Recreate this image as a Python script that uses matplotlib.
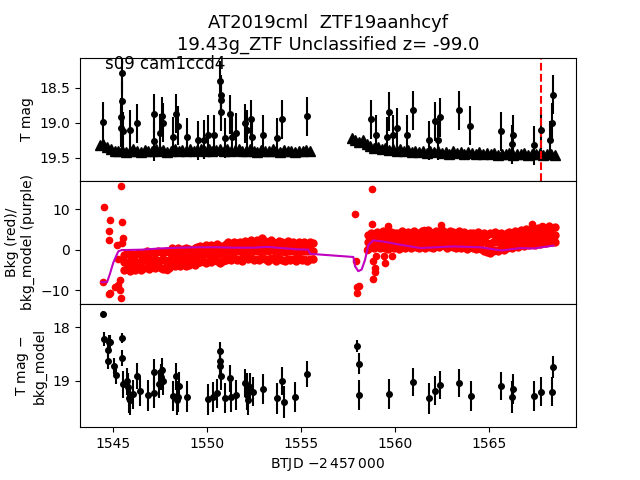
import numpy as np
import matplotlib
matplotlib.use('Agg')
import matplotlib.pyplot as plt

# --- top panel: detections (dots with error bars) ---
det_t = [1544.50, 1545.49, 1545.49, 1545.44, 1545.44, 1545.55, 1545.92, 1546.29, 1547.20, 1547.20,
         1547.52, 1547.61, 1547.69, 1548.19, 1548.37, 1548.47, 1548.95, 1549.54, 1549.86, 1550.07,
         1550.39, 1550.71, 1550.76, 1550.76, 1550.76, 1550.97, 1551.24, 1551.34, 1551.56, 1552.04,
         1552.14, 1552.34, 1552.41, 1552.99, 1553.74, 1554.00, 1555.33,
         1558.74, 1559.00, 1559.59, 1559.70, 1559.91, 1560.12, 1560.65, 1560.97, 1561.82, 1562.14,
         1562.30, 1562.41, 1563.42, 1564.00, 1565.65, 1566.29, 1566.24, 1567.41, 1567.78, 1568.26,
         1568.37, 1568.42]
det_mag = [18.99, 18.29, 18.69, 18.92, 19.07, 19.12, 19.10, 19.01, 18.87, 19.26,
           19.15, 18.91, 19.00, 19.20, 18.87, 19.04, 19.21, 19.25, 19.24, 19.17,
           19.17, 18.40, 18.60, 18.68, 18.84, 19.22, 18.88, 19.20, 19.14, 19.01,
           19.10, 18.95, 19.21, 19.17, 19.22, 18.95, 18.91,
           18.95, 19.17, 19.20, 18.84, 19.17, 19.07, 19.17, 18.82, 19.25, 18.98,
           19.25, 18.92, 18.82, 19.04, 19.12, 19.17, 19.31, 19.32, 19.10, 19.25,
           19.00, 18.60]
det_err = 0.28

# --- top panel: upper limits (triangles) ---
lim_t = [1544.3, 1544.5, 1544.7, 1544.9, 1545.1, 1545.3, 1545.5, 1545.7, 1545.9, 1546.1,
         1546.3, 1546.5, 1546.7, 1546.9, 1547.1, 1547.3, 1547.5, 1547.7, 1547.9, 1548.1,
         1548.3, 1548.5, 1548.7, 1548.9, 1549.1, 1549.3, 1549.5, 1549.7, 1549.9, 1550.1,
         1550.3, 1550.5, 1550.7, 1550.9, 1551.1, 1551.3, 1551.5, 1551.7, 1551.9, 1552.1,
         1552.3, 1552.5, 1552.7, 1552.9, 1553.1, 1553.3, 1553.5, 1553.7, 1553.9, 1554.1,
         1554.3, 1554.5, 1554.7, 1554.9, 1555.1, 1555.3, 1555.5,
         1557.7, 1557.9, 1558.1, 1558.3, 1558.5, 1558.7, 1558.9, 1559.1, 1559.3, 1559.5,
         1559.7, 1559.9, 1560.1, 1560.3, 1560.5, 1560.7, 1560.9, 1561.1, 1561.3, 1561.5,
         1561.7, 1561.9, 1562.1, 1562.3, 1562.5, 1562.7, 1562.9, 1563.1, 1563.3, 1563.5,
         1563.7, 1563.9, 1564.1, 1564.3, 1564.5, 1564.7, 1564.9, 1565.1, 1565.3, 1565.5,
         1565.7, 1565.9, 1566.1, 1566.3, 1566.5, 1566.7, 1566.9, 1567.1, 1567.3, 1567.5,
         1567.7, 1567.9, 1568.1, 1568.3, 1568.5]
lim_mag = [19.32, 19.30, 19.34, 19.38, 19.40, 19.41, 19.39, 19.42, 19.40, 19.38,
           19.41, 19.42, 19.39, 19.41, 19.40, 19.38, 19.41, 19.39, 19.42, 19.40,
           19.38, 19.41, 19.39, 19.40, 19.38, 19.41, 19.39, 19.37, 19.40, 19.38,
           19.41, 19.39, 19.37, 19.40, 19.38, 19.41, 19.39, 19.38, 19.40, 19.41,
           19.38, 19.40, 19.42, 19.39, 19.41, 19.40, 19.38, 19.41, 19.42, 19.39,
           19.41, 19.40, 19.42, 19.40, 19.41, 19.39, 19.40,
           19.22, 19.24, 19.27, 19.24, 19.30, 19.33, 19.36, 19.34, 19.38, 19.36,
           19.39, 19.37, 19.40, 19.38, 19.41, 19.39, 19.42, 19.40, 19.42, 19.40,
           19.43, 19.41, 19.42, 19.40, 19.43, 19.42, 19.44, 19.41, 19.43, 19.42,
           19.44, 19.42, 19.43, 19.45, 19.42, 19.44, 19.43, 19.45, 19.43, 19.46,
           19.44, 19.45, 19.43, 19.46, 19.44, 19.45, 19.43, 19.46, 19.44, 19.45,
           19.43, 19.46, 19.44, 19.45, 19.46]

# --- middle panel: background flux (red) ---
# scattered points at the start of each orbit and a few strays
bkg_out_t = [1544.54, 1544.86, 1544.80, 1544.78, 1544.47, 1544.80, 1544.85, 1545.44, 1545.49, 1545.53,
             1545.49, 1545.23, 1545.39, 1545.12, 1545.28, 1545.39, 1545.44, 1545.28, 1547.89,
             1558.80, 1557.89, 1558.80, 1557.95, 1557.99, 1558.10, 1557.99, 1558.53, 1558.85, 1558.96,
             1558.85, 1559.00, 1559.50, 1559.45, 1559.85, 1559.64, 1562.45, 1561.54, 1567.30, 1567.85,
             1558.93]
bkg_out_v = [10.5, 7.4, 4.7, 2.5, -7.9, -10.9, -10.7, 15.7, 6.9, 2.9,
             1.7, 1.2, -7.4, -9.1, -8.6, -10.0, -11.8, -2.2, -4.9,
             15.0, 8.8, 6.4, -2.7, -9.1, -9.0, -10.6, 0.0, -2.9, -4.4,
             -7.2, -1.5, -3.2, -1.5, -1.6, 5.9, 6.1, 4.9, 6.4, 5.8,
             -5.6]

bkg1_t = [1545.60, 1545.75, 1545.90, 1546.05, 1546.20, 1546.35, 1546.50,
          1546.65, 1546.80, 1546.95, 1547.10, 1547.25, 1547.40, 1547.55, 1547.70, 1547.85, 1548.00,
          1548.15, 1548.30, 1548.45, 1548.60, 1548.75, 1548.90, 1549.05, 1549.20, 1549.35, 1549.50,
          1549.65, 1549.80, 1549.95, 1550.10, 1550.25, 1550.40, 1550.55, 1550.70, 1550.85, 1551.00,
          1551.15, 1551.30, 1551.45, 1551.60, 1551.75, 1551.90, 1552.05, 1552.20, 1552.35, 1552.50,
          1552.65, 1552.80, 1552.95, 1553.10, 1553.25, 1553.40, 1553.55, 1553.70, 1553.85, 1554.00,
          1554.15, 1554.30, 1554.45, 1554.60, 1554.75, 1554.90, 1555.05, 1555.20, 1555.35, 1555.50,
          1555.65]
bkg1_hi = [-1.2, -0.9, -1.3, -1.0, -1.4, -0.8, -1.1,
           -0.7, -0.4, -0.8, -0.5, -0.9, -0.3, -0.6, -0.8, -0.4, -0.6,
           0.3, 0.0, 0.4, -0.1, 0.2, 0.5, 0.1, -0.2, 0.3, 0.6,
           1.0, 0.7, 1.2, 0.8, 1.1, 0.6, 1.3, 0.9, 1.0, 1.4,
           1.8, 1.5, 2.0, 1.6, 1.9, 1.4, 2.2, 1.7, 2.5, 1.9,
           2.3, 1.8, 2.8, 2.1, 1.7, 2.4, 2.0, 1.6, 2.2, 1.8,
           1.5, 2.1, 1.7, 1.9, 1.4, 2.0, 1.6, 1.8, 1.5, 1.9,
           1.7]
bkg1_mid = [-3.0, -3.4, -2.8, -3.3, -3.0, -3.5, -2.9,
            -2.4, -2.8, -2.5, -2.9, -2.3, -2.7, -2.6, -2.2, -2.8, -2.5,
            -1.7, -2.1, -1.5, -1.9, -1.6, -2.0, -1.4, -1.8, -1.6, -1.3,
            -0.9, -1.2, -0.7, -1.1, -0.8, -1.3, -0.6, -1.0, -0.9, -0.5,
            -0.2, -0.5, 0.0, -0.4, -0.1, -0.6, 0.2, -0.3, 0.4, -0.2,
            0.1, -0.4, 0.5, 0.0, -0.3, 0.3, -0.1, -0.5, 0.2, -0.2,
            -0.6, 0.0, -0.4, -0.1, -0.5, 0.1, -0.3, -0.1, -0.4, 0.0,
            -0.2]
bkg1_lo = [-5.0, -4.7, -5.2, -4.8, -5.1, -4.6, -4.9,
           -4.5, -4.2, -4.7, -4.3, -4.6, -4.1, -4.4, -4.8, -4.2, -4.5,
           -3.8, -4.1, -3.6, -3.9, -3.5, -4.0, -3.7, -3.4, -3.8, -3.3,
           -3.0, -2.7, -3.2, -2.8, -3.1, -2.6, -2.9, -3.2, -2.7, -2.5,
           -2.3, -2.6, -2.1, -2.5, -2.2, -2.7, -1.9, -2.4, -2.0, -2.6,
           -2.2, -2.5, -1.8, -2.3, -2.7, -2.1, -2.4, -2.8, -2.0, -2.5,
           -2.9, -2.2, -2.6, -2.3, -2.8, -2.1, -2.5, -2.3, -2.7, -2.2,
           -2.4]

# dense band, orbit 2
bkg2_t = [1558.60, 1558.75, 1558.90, 1559.05, 1559.20, 1559.35, 1559.50, 1559.65, 1559.80, 1559.95,
          1560.10, 1560.25, 1560.40, 1560.55, 1560.70, 1560.85, 1561.00, 1561.15, 1561.30, 1561.45,
          1561.60, 1561.75, 1561.90, 1562.05, 1562.20, 1562.35, 1562.50, 1562.65, 1562.80, 1562.95,
          1563.10, 1563.25, 1563.40, 1563.55, 1563.70, 1563.85, 1564.00, 1564.15, 1564.30, 1564.45,
          1564.60, 1564.75, 1564.90, 1565.05, 1565.20, 1565.35, 1565.50, 1565.65, 1565.80, 1565.95,
          1566.10, 1566.25, 1566.40, 1566.55, 1566.70, 1566.85, 1567.00, 1567.15, 1567.30, 1567.45,
          1567.60, 1567.75, 1567.90, 1568.05, 1568.20, 1568.35, 1568.50]
bkg2_hi = [3.6, 4.0, 3.8, 4.3, 3.9, 4.5, 4.1, 3.7, 4.4, 4.0,
           4.2, 3.8, 4.6, 4.1, 4.4, 3.9, 4.7, 4.2, 4.0, 4.5,
           4.1, 4.8, 4.3, 3.9, 4.6, 4.2, 4.9, 4.4, 4.0, 4.6,
           4.3, 3.9, 4.5, 4.1, 4.4, 3.8, 4.2, 4.0, 3.7, 4.3,
           3.9, 4.2, 3.6, 4.0, 3.8, 4.3, 3.9, 4.1, 3.7, 4.2,
           4.4, 4.0, 4.6, 4.3, 4.8, 4.5, 5.0, 4.7, 5.2, 4.8,
           5.4, 5.0, 5.6, 5.2, 5.8, 5.4, 5.5]
bkg2_mid = [1.8, 2.2, 2.0, 2.5, 2.1, 2.6, 2.3, 1.9, 2.5, 2.2,
            2.4, 2.0, 2.7, 2.3, 2.6, 2.1, 2.8, 2.4, 2.2, 2.6,
            2.3, 2.9, 2.5, 2.1, 2.7, 2.4, 3.0, 2.6, 2.2, 2.7,
            2.4, 2.1, 2.6, 2.3, 2.5, 2.0, 2.4, 2.2, 1.9, 2.4,
            2.0, 2.3, 1.7, 1.5, 1.9, 2.2, 1.8, 2.1, 1.9, 2.3,
            2.5, 2.2, 2.7, 2.5, 2.9, 2.7, 3.1, 2.9, 3.3, 3.0,
            3.5, 3.2, 3.7, 3.4, 3.9, 3.6, 3.6]
bkg2_lo = [0.2, 0.6, 0.3, 0.8, 0.4, 0.9, 0.5, 0.2, 0.7, 0.4,
           0.6, 0.2, 0.9, 0.5, 0.8, 0.3, 1.0, 0.6, 0.4, 0.8,
           0.5, 1.1, 0.7, 0.3, 0.9, 0.6, 1.2, 0.8, 0.4, 0.9,
           0.6, 0.3, 0.8, 0.5, 0.7, 0.2, 0.6, 0.4, 0.1, 0.5,
           0.2, -0.3, -0.6, -0.8, -0.4, 0.0, -0.2, 0.3, 0.0, 0.4,
           0.7, 0.4, 0.9, 0.7, 1.1, 0.9, 1.3, 1.1, 1.5, 1.2,
           1.7, 1.4, 1.9, 1.6, 2.1, 1.8, 1.8]

# background model (purple)
model_t = [1544.40, 1544.70, 1544.85, 1545.03, 1545.20, 1545.30, 1545.47, 1546.5, 1547.5, 1548.5,
           1549.5, 1550.5, 1551.5, 1552.5, 1553.2, 1554.0, 1554.8, 1555.4, 1555.5, 1556.03,
           1557.80, 1557.89, 1558.06, 1558.24, 1558.42, 1558.60, 1558.86, 1559.39, 1560.46, 1561.35,
           1562.2, 1563.12, 1564.54, 1565.69, 1566.66, 1567.37, 1568.44]
model_v = [-8.0, -8.0, -6.0, -3.2, -1.4, -0.4, -0.1, 0.0, 0.3, 0.5,
           0.6, 0.6, 0.5, 0.5, 0.7, 0.4, 0.1, 0.0, -1.0, -1.2,
           -1.8, -4.1, -5.3, -4.9, -2.5, 1.2, 2.3, 2.0, 1.1, 0.4,
           0.6, 0.8, 0.6, -0.2, 0.4, 0.3, 1.0]

# --- bottom panel: T mag - bkg_model ---
sub_t = [1544.47, 1544.54, 1544.80, 1544.86, 1544.77, 1544.77, 1545.08, 1545.16, 1545.49, 1545.49,
         1545.56, 1545.74, 1545.83, 1545.88, 1545.92, 1546.10, 1546.31, 1546.45, 1546.89, 1547.21,
         1547.21, 1547.48, 1547.55, 1547.62, 1547.69, 1548.19, 1548.37, 1548.40, 1548.46, 1548.54,
         1548.97, 1550.07, 1550.35, 1550.56, 1550.71, 1550.71, 1550.72, 1550.76, 1550.97, 1551.24,
         1551.31, 1551.54, 1552.04, 1552.13, 1552.16, 1552.21, 1552.30, 1552.45, 1553.01, 1553.75,
         1553.99, 1554.13, 1554.71, 1555.32,
         1557.98, 1558.12, 1558.12, 1559.70, 1560.99, 1561.84, 1562.14, 1562.41, 1563.44, 1564.04,
         1565.65, 1566.27, 1566.24, 1567.41, 1567.77, 1568.38, 1568.43]
sub_mag = [17.75, 18.22, 18.27, 18.28, 18.42, 18.63, 18.72, 18.89, 18.20, 18.58,
           19.06, 19.01, 19.12, 19.32, 19.35, 19.25, 18.91, 19.19, 19.27, 18.83,
           19.22, 19.06, 18.92, 18.80, 19.01, 19.28, 18.91, 19.35, 19.29, 19.09,
           19.29, 19.34, 19.30, 19.23, 18.45, 18.63, 18.73, 18.91, 19.31, 18.95,
           19.29, 19.26, 19.04, 19.12, 19.26, 19.35, 19.12, 19.20, 19.15, 19.32,
           19.00, 19.39, 19.30, 18.87,
           18.35, 18.68, 19.26, 19.25, 19.02, 19.32, 19.18, 19.07, 19.04, 19.28,
           19.09, 19.15, 19.30, 19.28, 19.20, 19.20, 18.74]
sub_err = [0.05, 0.13, 0.13, 0.13, 0.13, 0.14, 0.15, 0.17, 0.10, 0.15,
           0.25, 0.25, 0.27, 0.28, 0.28, 0.27, 0.24, 0.27, 0.28, 0.24,
           0.28, 0.26, 0.24, 0.23, 0.26, 0.28, 0.25, 0.29, 0.28, 0.26,
           0.28, 0.29, 0.28, 0.27, 0.17, 0.20, 0.22, 0.25, 0.28, 0.25,
           0.28, 0.28, 0.26, 0.27, 0.28, 0.29, 0.27, 0.27, 0.27, 0.29,
           0.26, 0.29, 0.28, 0.24,
           0.12, 0.20, 0.28, 0.28, 0.26, 0.29, 0.27, 0.26, 0.26, 0.28,
           0.26, 0.27, 0.29, 0.28, 0.27, 0.27, 0.20]

peak_t = 1567.78

fig, (ax1, ax2, ax3) = plt.subplots(3, 1, sharex=True, figsize=(6.4, 4.8))
fig.subplots_adjust(hspace=0)

ax1.plot(lim_t, lim_mag, 'k^', ms=6.5)
ax1.errorbar(det_t, det_mag, yerr=det_err, fmt='ko', ms=4, elinewidth=1.5)
ax1.axvline(peak_t, color='r', ls='--', lw=1.5)
ax1.set_ylim(19.83, 18.07)
ax1.set_ylabel('T mag')
ax1.text(0.05, 0.95, 's09 cam1ccd4', transform=ax1.transAxes, fontsize=12, va='center')
ax1.set_title('AT2019cml  ZTF19aanhcyf\n19.43g_ZTF Unclassified z= -99.0', fontsize=13)

for row in (bkg1_hi, bkg1_mid, bkg1_lo):
    ax2.plot(bkg1_t, row, 'ro', ms=5)
for row in (bkg2_hi, bkg2_mid, bkg2_lo):
    ax2.plot(bkg2_t, row, 'ro', ms=5)
ax2.plot(bkg_out_t, bkg_out_v, 'ro', ms=4.5)
ax2.plot(model_t, model_v, 'm-', lw=1.5)
ax2.set_ylim(-13.4, 17.0)
ax2.set_ylabel('Bkg (red)/\nbkg_model (purple)')

ax3.errorbar(sub_t, sub_mag, yerr=sub_err, fmt='ko', ms=4, elinewidth=1.5)
ax3.set_ylim(19.86, 17.57)
ax3.set_ylabel('T mag $-$\nbkg_model')

ax3.set_xlim(1543.26, 1569.64)
ax3.set_xlabel('BTJD $-2\\,457\\,000$')

fig.savefig('out.png', dpi=100)
